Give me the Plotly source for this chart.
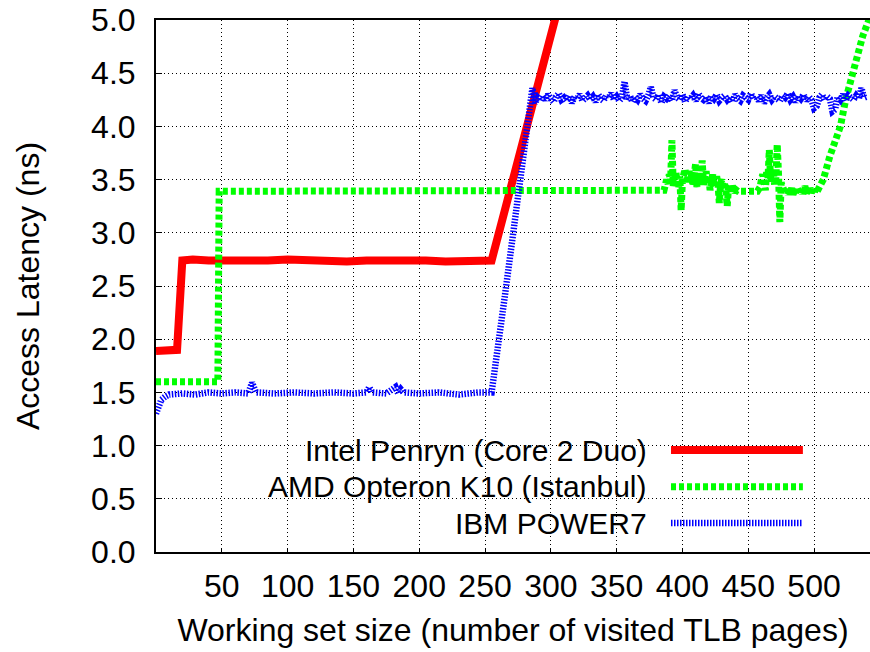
import plotly.graph_objects as go

# ---------------- data ----------------
intel_x = [0, 6, 12, 16, 20, 28, 40, 55, 70, 85, 100, 115, 130, 145, 160, 175, 190,
           205, 220, 235, 248, 255, 265, 275, 285, 295, 305, 315]
intel_y = [1.89, 1.89, 1.90, 1.90, 2.74, 2.75, 2.74, 2.74, 2.73, 2.74, 2.75, 2.74, 2.74,
           2.73, 2.74, 2.74, 2.75, 2.74, 2.73, 2.74, 2.74, 2.74, 3.21, 3.68, 4.15, 4.62,
           5.09, 5.56]

amd_x_flat = [0, 20, 47, 48, 100, 150, 200, 250, 300, 350, 385]
amd_y_flat = [1.60, 1.60, 1.60, 3.39, 3.39, 3.39, 3.39, 3.39, 3.39, 3.39, 3.39]
amd_x_noise1 = list(range(386, 443))
amd_y_noise1 = [3.40, 3.45, 3.50, 3.46, 3.55, 3.48, 3.87, 3.44, 3.52, 3.57,
                3.47, 3.42, 3.53, 3.21, 3.50, 3.56, 3.60, 3.46, 3.52, 3.58,
                3.49, 3.55, 3.44, 3.53, 3.65, 3.43, 3.50, 3.56, 3.47, 3.68,
                3.45, 3.52, 3.58, 3.46, 3.53, 3.40, 3.50, 3.55, 3.44, 3.49,
                3.53, 3.46, 3.28, 3.47, 3.50, 3.42, 3.46, 3.40, 3.25, 3.43,
                3.45, 3.39, 3.44, 3.41, 3.38, 3.40, 3.39]
amd_x_mid = [457]
amd_y_mid = [3.39]
amd_x_noise2 = list(range(459, 504))
amd_y_noise2 = [3.43, 3.50, 3.55, 3.47, 3.40, 3.58, 3.52, 3.78, 3.48, 3.56,
                3.60, 3.45, 3.52, 3.83, 3.55, 3.10, 3.47, 3.42, 3.39, 3.37,
                3.41, 3.36, 3.40, 3.38, 3.42, 3.36, 3.39, 3.37, 3.43, 3.38,
                3.36, 3.41, 3.37, 3.40, 3.44, 3.37, 3.39, 3.36, 3.42, 3.38,
                3.40, 3.37, 3.41, 3.38, 3.40]
amd_x_rise = [507, 512, 516, 520, 524, 528, 533, 537, 541, 545]
amd_y_rise = [3.50, 3.72, 3.86, 4.00, 4.25, 4.45, 4.69, 4.85, 4.98, 5.12]
amd_x = amd_x_flat + amd_x_noise1 + amd_x_mid + amd_x_noise2 + amd_x_rise
amd_y = amd_y_flat + amd_y_noise1 + amd_y_mid + amd_y_noise2 + amd_y_rise

ibm_x_low = [0, 2, 4, 7, 10, 20, 30, 40, 50, 60, 70, 73, 76, 90, 105, 120, 135, 150, 160,
             162, 164, 175, 182, 184, 186, 188, 200, 215, 230, 245, 255, 265, 275, 280,
             284, 286, 288]
ibm_y_low = [1.30, 1.38, 1.43, 1.46, 1.48, 1.49, 1.48, 1.50, 1.49, 1.50, 1.49, 1.59, 1.50,
             1.49, 1.50, 1.49, 1.50, 1.49, 1.50, 1.55, 1.50, 1.49, 1.55, 1.49, 1.53, 1.50,
             1.49, 1.50, 1.48, 1.50, 1.50, 2.40, 3.30, 3.75, 4.10, 4.36, 4.22]
ibm_x_high = list(range(290, 541, 2))
ibm_y_high = [4.27, 4.24, 4.29, 4.25, 4.30, 4.26, 4.23, 4.28, 4.31, 4.25,
              4.27, 4.24, 4.29, 4.22, 4.28, 4.26, 4.30, 4.24, 4.27, 4.29,
              4.25, 4.28, 4.23, 4.30, 4.26, 4.24, 4.29, 4.27, 4.31, 4.25,
              4.28, 4.24, 4.27, 4.42, 4.26, 4.29, 4.23, 4.28, 4.25, 4.30,
              4.26, 4.24, 4.29, 4.37, 4.27, 4.25, 4.30, 4.22, 4.28, 4.26,
              4.29, 4.24, 4.34, 4.27, 4.25, 4.30, 4.23, 4.28, 4.26, 4.29,
              4.24, 4.31, 4.27, 4.25, 4.28, 4.22, 4.29, 4.26, 4.30, 4.24,
              4.27, 4.29, 4.25, 4.28, 4.23, 4.30, 4.26, 4.24, 4.29, 4.27,
              4.25, 4.31, 4.26, 4.28, 4.24, 4.29, 4.22, 4.27, 4.30, 4.25,
              4.28, 4.26, 4.24, 4.29, 4.27, 4.31, 4.25, 4.28, 4.23, 4.29,
              4.26, 4.30, 4.24, 4.28, 4.25, 4.17, 4.19, 4.27, 4.30, 4.25,
              4.28, 4.26, 4.14, 4.16, 4.28, 4.25, 4.30, 4.24, 4.29, 4.27,
              4.25, 4.29, 4.26, 4.36, 4.27, 4.28]
ibm_x = ibm_x_low + ibm_x_high
ibm_y = ibm_y_low + ibm_y_high

series_names = ["Intel Penryn (Core 2 Duo)", "AMD Opteron K10 (Istanbul)", "IBM POWER7"]
x_ticks = [50, 100, 150, 200, 250, 300, 350, 400, 450, 500]
y_ticks = [0.0, 0.5, 1.0, 1.5, 2.0, 2.5, 3.0, 3.5, 4.0, 4.5, 5.0]

# ---------------- styles ----------------
styles = [
    dict(color="#ff0000", width=8, dash="solid"),
    dict(color="#00ff00", width=7, dash="5px,3px"),
    dict(color="#0000ff", width=6.5, dash="1.5px,1.5px"),
]

fig = go.Figure()
for (xs, ys), name, st in zip([(intel_x, intel_y), (amd_x, amd_y), (ibm_x, ibm_y)],
                              series_names, styles):
    fig.add_trace(go.Scatter(x=xs, y=ys, mode="lines", name=name, line=st,
                             showlegend=False, hoverinfo="skip"))

FONT = "Liberation Sans, Arial, Helvetica, sans-serif"
FS = 32
FS_KEY = 30

# opaque key area (covers grid lines)
fig.add_shape(type="rect", xref="paper", yref="paper", x0=0.003, x1=1.0,
              y0=0.008, y1=0.229, fillcolor="white", line=dict(width=0), layer="between")

row_y = [0.1917, 0.1227, 0.0545]
for name, st, yy in zip(series_names, styles, row_y):
    fig.add_annotation(xref="paper", yref="paper", x=0.691, y=yy, text=name,
                       showarrow=False, xanchor="right", yanchor="middle",
                       font=dict(family=FONT, size=FS_KEY, color="black"))
    fig.add_shape(type="line", xref="paper", yref="paper", x0=0.7213, x1=0.906,
                  y0=yy, y1=yy, line=st, layer="above")

fig.update_layout(
    width=870, height=652,
    margin=dict(l=156, r=0, t=20, b=100),
    plot_bgcolor="white", paper_bgcolor="white",
    font=dict(family=FONT, size=FS, color="black"),
    showlegend=False,
)
fig.update_xaxes(
    range=[0, 542.5], tickmode="array", tickvals=x_ticks,
    ticktext=[str(v) for v in x_ticks],
    showgrid=True, gridcolor="black", gridwidth=1, griddash="1px,3px",
    showline=True, linecolor="black", linewidth=2, mirror=True,
    ticks="inside", ticklen=4, tickcolor="black", tickwidth=1,
    zeroline=False, ticklabelstandoff=5,
    title=dict(text="Working set size (number of visited TLB pages)", standoff=15,
               font=dict(family=FONT, size=FS)),
)
fig.update_yaxes(
    range=[0, 5.0], tickmode="array", tickvals=y_ticks,
    ticktext=[f"{v:.1f}" for v in y_ticks],
    showgrid=True, gridcolor="black", gridwidth=1, griddash="1px,3px",
    showline=True, linecolor="black", linewidth=2, mirror=False,
    ticks="inside", ticklen=6, tickcolor="black", tickwidth=1,
    zeroline=False, ticklabelstandoff=12,
    title=dict(text="Access Latency (ns)", standoff=42, font=dict(family=FONT, size=FS)),
)

fig.write_html("out.html")
